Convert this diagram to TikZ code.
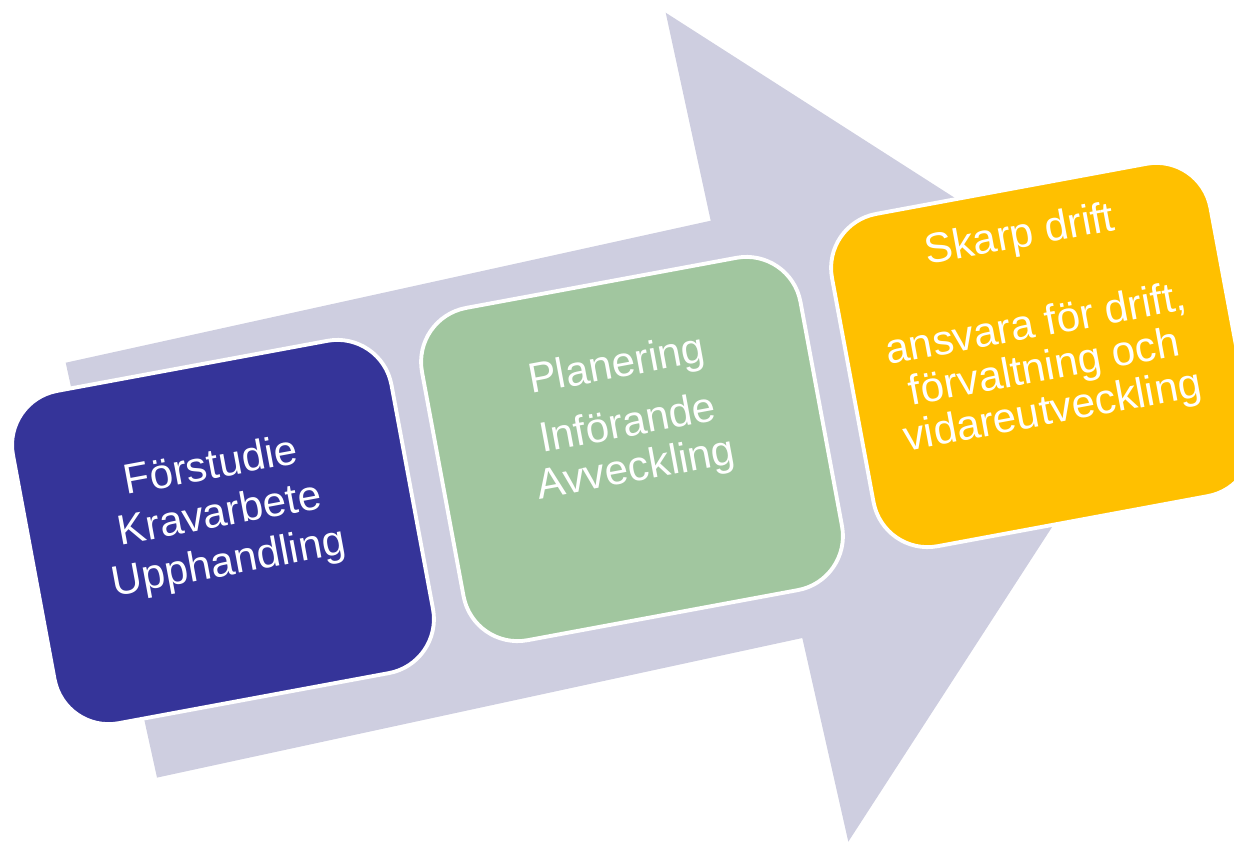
\documentclass[tikz,border=0pt]{standalone}
\usepackage{fontspec}
\setmainfont{Liberation Sans}
\usepackage{xcolor}
\usepackage{tikz}
\usetikzlibrary{calc}

\definecolor{arrowgray}{RGB}{206,206,224}
\definecolor{phaseblue}{RGB}{53,52,153}
\definecolor{phasegreen}{RGB}{161,198,159}
\definecolor{phaseorange}{RGB}{255,192,0}

\tikzset{
  phase/.style={draw=white, line width=2.2pt, rounded corners=1.1cm,
    minimum width=7.7cm, minimum height=6.76cm, rotate=10.5},
  phasetext/.style={text=white, align=center, rotate=10.5, inner sep=0pt,
    font=\fontsize{24}{27.8}\selectfont},
}

\begin{document}
\begin{tikzpicture}[x=0.02cm, y=-0.02cm]
    \clip (0,0) rectangle (1234,843);
    \fill[arrowgray] (65.7,362.7) -- (710.7,220.7) -- (665.7,12.7) -- (1174.2,338.4)
      -- (848.3,841.7) -- (802.3,638) -- (157,777.6) -- cycle;

    \node[phase, fill=phaseblue] (p1) at (223,532) {};
    \node[phase, fill=phasegreen] (p2) at (632,449) {};
    \node[phase, fill=phaseorange] (p3) at (1042,355) {};

    \node[phasetext] (l1) at ($(p1.center)!0.095!(p1.north)$)
      {Förstudie\\Kravarbete\\Upphandling};
    \node[phasetext, font=\fontsize{24}{26}\selectfont] (l2)
      at ($(p2.center)!0.18!(p2.north)$)
      {Planering\\[8pt]Införande\\Avveckling};
    \node[phasetext, font=\fontsize{24}{25}\selectfont] (l3)
      at ($(p3.center)!0.18!(p3.north)$)
      {Skarp drift\\[27pt]ansvara för drift,\\förvaltning och\\vidareutveckling};
\end{tikzpicture}
\end{document}
